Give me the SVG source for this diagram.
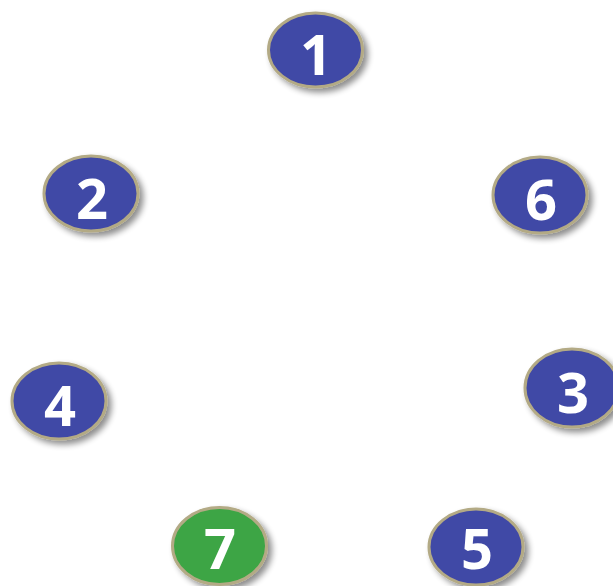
<svg xmlns="http://www.w3.org/2000/svg" width="613" height="586" viewBox="0 0 613 586">
<defs>
<filter id="sh" x="-30%" y="-30%" width="170%" height="170%">
<feGaussianBlur in="SourceAlpha" stdDeviation="3"/>
<feOffset dx="4" dy="4" result="b"/>
<feComponentTransfer><feFuncA type="linear" slope="0.45"/></feComponentTransfer>
<feMerge><feMergeNode/><feMergeNode in="SourceGraphic"/></feMerge>
</filter>
</defs>
<style>
.n ellipse{stroke:#B3AA85;stroke-width:3;filter:url(#sh)}
.b ellipse{fill:#4148A6}
.g ellipse{fill:#3DA544}
.n text{fill:#fff;font-family:"Open Sans",sans-serif;font-weight:bold;font-size:56px;text-anchor:middle;dominant-baseline:central}
</style>
<g id="connectors"/>
<g id="n1" class="n b"><ellipse cx="315.5" cy="50" rx="47" ry="37"/><text x="316" y="53">1</text></g>
<g id="n2" class="n b"><ellipse cx="91" cy="193.5" rx="47" ry="37.5"/><text x="92" y="197">2</text></g>
<g id="n6" class="n b"><ellipse cx="540" cy="195" rx="47" ry="38"/><text x="541" y="198">6</text></g>
<g id="n4" class="n b"><ellipse cx="59" cy="401" rx="47" ry="38"/><text x="60" y="404">4</text></g>
<g id="n3" class="n b"><ellipse cx="572" cy="388" rx="47" ry="39"/><text x="573" y="391">3</text></g>
<g id="n7" class="n g"><ellipse cx="219.5" cy="546" rx="47" ry="38.5"/><text x="220" y="547">7</text></g>
<g id="n5" class="n b"><ellipse cx="476" cy="547" rx="47" ry="38"/><text x="477" y="547">5</text></g>
</svg>
